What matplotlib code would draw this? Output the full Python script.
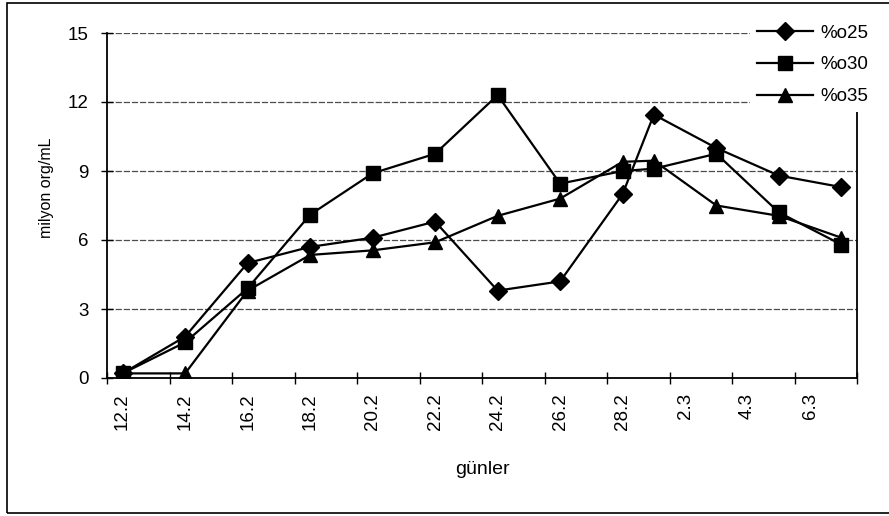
import datetime as dt
import matplotlib
matplotlib.use("Agg")
import matplotlib.pyplot as plt
import matplotlib.dates as mdates
from matplotlib.patches import Rectangle

plt.rcParams['font.family'] = ['Liberation Sans', 'DejaVu Sans']

# sampling days (day.month), one year without 29 Feb
days = ["12.2", "14.2", "16.2", "18.2", "20.2", "22.2", "24.2",
        "26.2", "28.2", "1.3", "3.3", "5.3", "7.3"]
tick_labels = ["12.2", "14.2", "16.2", "18.2", "20.2", "22.2", "24.2",
               "26.2", "28.2", "2.3", "4.3", "6.3"]

o25 = [0.2, 1.8, 5.0, 5.7, 6.1, 6.8, 3.8, 4.2, 8.0, 11.45, 10.0, 8.8, 8.3]
o30 = [0.2, 1.55, 3.9, 7.1, 8.9, 9.75, 12.3, 8.45, 9.0, 9.1, 9.75, 7.2, 5.8]
o35 = [0.2, 0.2, 3.8, 5.35, 5.55, 5.9, 7.05, 7.8, 9.4, 9.45, 7.5, 7.05, 6.1]


def to_date(s):
    d, m = s.split(".")
    return dt.date(2001, int(m), int(d))


x = [to_date(s) for s in days]
xt = [mdates.date2num(to_date(s)) for s in tick_labels]

fig = plt.figure(figsize=(8.89, 5.16), dpi=100)
W, H = 889, 516
ax = fig.add_axes([107 / W, 1 - 378 / H, 750 / W, 345 / H])

# outer chart border
fig.patches.append(Rectangle((7 / W, 3 / H), 0.995, 510 / H, transform=fig.transFigure,
                             fill=False, edgecolor='black', lw=1.2))

ax.plot(x, o25, color='black', lw=1.6, marker='D', markersize=9, label='%o25')
ax.plot(x, o30, color='black', lw=1.6, marker='s', markersize=10, label='%o30')
ax.plot(x, o35, color='black', lw=1.6, marker='^', markersize=10, label='%o35')

x0 = mdates.date2num(x[0]) - 0.5
x1 = mdates.date2num(x[-1]) + 0.5
ax.set_xlim(x0, x1)
ax.set_ylim(0, 15)
ax.set_yticks([0, 3, 6, 9, 12, 15])
ax.yaxis.grid(True, color='0.3', lw=0.9, linestyle=(0, (5, 1.5)))

ax.set_xticks(xt)
ax.set_xticklabels(tick_labels, rotation=90)
ax.set_xticks([x0 + 2 * k for k in range(13)], minor=True)
ax.tick_params(axis='x', which='major', length=0, pad=11, labelsize=13.5)
ax.tick_params(axis='x', which='minor', direction='inout', length=8, width=1)
ax.tick_params(axis='y', direction='inout', length=8, width=1, pad=9, labelsize=13.5)

for s in ['left', 'bottom', 'right']:
    ax.spines[s].set_linewidth(1.3)
ax.spines['top'].set_visible(False)

ax.set_xlabel('günler', fontsize=14)
ax.xaxis.set_label_coords(0.5, -0.24)
ax.set_ylabel('milyon org/mL', fontsize=11.5)
ax.yaxis.set_label_coords(-0.07, 0.55)

leg = ax.legend(loc='upper left', bbox_to_anchor=(750 / W, 1 - 18 / H),
                bbox_transform=fig.transFigure, numpoints=1, fontsize=13.5,
                handlelength=3.0, handletextpad=0.4, labelspacing=0.78,
                borderpad=0.35, borderaxespad=0, fancybox=False)
leg.get_frame().set_facecolor('white')
leg.get_frame().set_edgecolor('none')
leg.get_frame().set_alpha(1)

fig.savefig('out.png', dpi=100)
